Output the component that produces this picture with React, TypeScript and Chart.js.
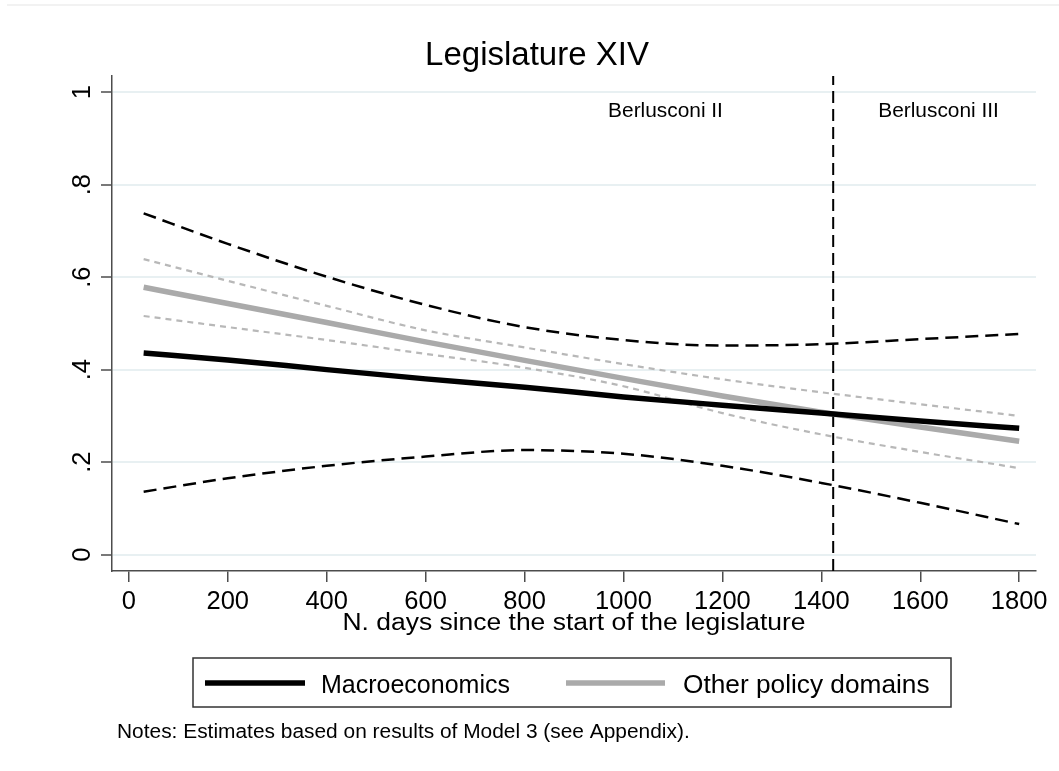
import { useEffect, useRef } from "react";
import { Chart, registerables } from "chart.js";

Chart.register(...registerables);

const FONT = '"Liberation Sans", Arial, Helvetica, sans-serif';

// ---- data ----
const days = [30, 200, 400, 600, 800, 1000, 1200, 1400, 1600, 1800];
const macro = [0.436, 0.421, 0.4, 0.38, 0.362, 0.341, 0.323, 0.306, 0.289, 0.273];
const macroUpper = [0.738, 0.672, 0.601, 0.54, 0.492, 0.464, 0.452, 0.455, 0.466, 0.477];
const macroLower = [0.136, 0.165, 0.192, 0.212, 0.226, 0.218, 0.192, 0.155, 0.112, 0.066];
const other = [0.578, 0.543, 0.502, 0.46, 0.42, 0.381, 0.343, 0.308, 0.276, 0.245];
const otherUpper = [0.639, 0.592, 0.538, 0.485, 0.448, 0.412, 0.379, 0.351, 0.325, 0.3];
const otherLower = [0.516, 0.492, 0.464, 0.434, 0.404, 0.364, 0.306, 0.26, 0.222, 0.187];

const xTicks = [0, 200, 400, 600, 800, 1000, 1200, 1400, 1600, 1800];
const xTickLabels = ["0", "200", "400", "600", "800", "1000", "1200", "1400", "1600", "1800"];
const yTicks = [0, 0.2, 0.4, 0.6, 0.8, 1];
const yTickLabels = ["0", ".2", ".4", ".6", ".8", "1"];
const xMin = -34;
const xMax = 1834;
const yMin = -0.0355;
const yMax = 1.035;

const cabinetChangeDay = 1424;
const periodLabels = ["Berlusconi II", "Berlusconi III"];
const periodLabelDays = [1085, 1637];
const periodLabelValue = 0.947;

const seriesNames = ["Macroeconomics", "Other policy domains"];
const titleText = "Legislature XIV";
const xTitleText = "N. days since the start of the legislature";
const notesText = "Notes: Estimates based on results of Model 3 (see Appendix).";

const BLACK = "#000000";
const GRAY = "#aaaaaa";
const GRAY_DASH = "#b8b8b8";
const AXIS = "#4d4d4d";
const GRID = "#e8f0f2";

const pts = (ys: number[]) => days.map((d, i) => ({ x: d, y: ys[i] }));

function drawText(
  ctx: CanvasRenderingContext2D,
  text: string,
  x: number,
  y: number,
  size: number,
  sx: number,
  align: CanvasTextAlign
) {
  ctx.save();
  ctx.translate(x, y);
  ctx.scale(sx, 1);
  ctx.font = `${size}px ${FONT}`;
  ctx.textAlign = align;
  ctx.textBaseline = "alphabetic";
  ctx.fillText(text, 0, 0);
  ctx.restore();
}

const overlay = {
  id: "overlay",
  afterDraw(chart: any) {
    const { ctx, chartArea } = chart;
    const x = chart.scales.x;
    const y = chart.scales.y;
    ctx.save();

    // faint outer line at top
    ctx.strokeStyle = "#eeeeee";
    ctx.lineWidth = 1.5;
    ctx.beginPath();
    ctx.moveTo(7, 5);
    ctx.lineTo(1059, 5);
    ctx.stroke();

    ctx.fillStyle = "#000";
    // title
    drawText(ctx, titleText, 537, 65, 33, 1, "center");

    // y tick labels, rotated
    ctx.font = `25.5px ${FONT}`;
    yTicks.forEach((v, i) => {
      const py = y.getPixelForValue(v);
      ctx.save();
      ctx.translate(chartArea.left - 22, py);
      ctx.rotate(-Math.PI / 2);
      ctx.textAlign = "center";
      ctx.textBaseline = "alphabetic";
      ctx.fillText(yTickLabels[i], 0, 0);
      ctx.restore();
    });

    // x axis title
    drawText(ctx, xTitleText, (chartArea.left + chartArea.right) / 2, 630, 23, 1.15, "center");

    // period annotations
    periodLabels.forEach((lab, i) => {
      drawText(ctx, lab, x.getPixelForValue(periodLabelDays[i]), y.getPixelForValue(periodLabelValue), 19.5, 1.07, "center");
    });

    // legend
    ctx.strokeStyle = "#333333";
    ctx.lineWidth = 1.5;
    ctx.strokeRect(193, 658, 758, 49);
    ctx.lineCap = "butt";
    ctx.lineWidth = 5.5;
    ctx.strokeStyle = BLACK;
    ctx.beginPath();
    ctx.moveTo(205, 683);
    ctx.lineTo(305, 683);
    ctx.stroke();
    ctx.strokeStyle = GRAY;
    ctx.beginPath();
    ctx.moveTo(566, 683);
    ctx.lineTo(665, 683);
    ctx.stroke();
    drawText(ctx, seriesNames[0], 321, 693, 25, 1, "left");
    drawText(ctx, seriesNames[1], 683, 693, 25, 1.05, "left");

    // notes
    drawText(ctx, notesText, 117, 738, 20, 1.045, "left");

    ctx.restore();
  },
};

export default function App() {
  const ref = useRef<HTMLCanvasElement>(null);

  useEffect(() => {
    const canvas = ref.current;
    if (!canvas) return;
    const lineDs = (label: string, data: number[], color: string, width: number, dash: number[]) => ({
      label,
      data: pts(data),
      borderColor: color,
      backgroundColor: color,
      borderWidth: width,
      borderDash: dash,
      borderCapStyle: "butt" as const,
      pointRadius: 0,
      fill: false,
      cubicInterpolationMode: "monotone" as const,
    });
    const chart = new Chart(canvas, {
      type: "line",
      data: {
        datasets: [
          lineDs(seriesNames[0], macro, BLACK, 5.5, []),
          lineDs(seriesNames[1], other, GRAY, 5.5, []),
          lineDs("Macro upper", macroUpper, BLACK, 2.5, [13, 7]),
          lineDs("Macro lower", macroLower, BLACK, 2.5, [13, 7]),
          lineDs("Other upper", otherUpper, GRAY_DASH, 2.2, [6, 5]),
          lineDs("Other lower", otherLower, GRAY_DASH, 2.2, [6, 5]),
          {
            label: "Cabinet change",
            data: [
              { x: cabinetChangeDay, y: yMin },
              { x: cabinetChangeDay, y: yMax },
            ],
            borderColor: BLACK,
            borderWidth: 2,
            borderDash: [12, 6],
            pointRadius: 0,
            fill: false,
          },
        ],
      },
      options: {
        animation: false,
        responsive: false,
        events: [],
        layout: { padding: { left: 0, top: 76, right: 23, bottom: 160 } },
        plugins: {
          legend: { display: false },
          tooltip: { enabled: false },
          title: { display: false },
        },
        scales: {
          x: {
            type: "linear",
            min: xMin,
            max: xMax,
            afterBuildTicks: (s: any) => {
              s.ticks = xTicks.map((v) => ({ value: v }));
            },
            afterFit: (s: any) => {
              s.height = 40;
            },
            grid: {
              display: true,
              drawOnChartArea: false,
              drawTicks: true,
              tickLength: 11,
              color: AXIS,
              tickColor: AXIS,
              lineWidth: 1.5,
              tickWidth: 1.5,
            },
            border: { display: true, color: AXIS, width: 1.5 },
            ticks: {
              color: "#000",
              font: { family: FONT, size: 25.5 },
              padding: 5,
              maxRotation: 0,
              minRotation: 0,
              autoSkip: false,
              callback: (_v: any, i: number) => xTickLabels[i],
            },
          },
          y: {
            type: "linear",
            min: yMin,
            max: yMax,
            afterBuildTicks: (s: any) => {
              s.ticks = yTicks.map((v) => ({ value: v }));
            },
            afterFit: (s: any) => {
              s.width = 112;
            },
            grid: {
              display: true,
              drawOnChartArea: true,
              drawTicks: true,
              tickLength: 11,
              color: GRID,
              lineWidth: 2,
              tickColor: AXIS,
              tickWidth: 1.5,
            },
            border: { display: true, color: AXIS, width: 1.5 },
            ticks: { display: false },
          },
        },
      },
      plugins: [overlay],
    } as any);
    return () => chart.destroy();
  }, []);

  return (
    <div style={{ position: "absolute", left: 0, top: 0, width: 1059, height: 771, background: "#fff" }}>
      <canvas ref={ref} width={1059} height={771} style={{ display: "block" }} />
    </div>
  );
}
